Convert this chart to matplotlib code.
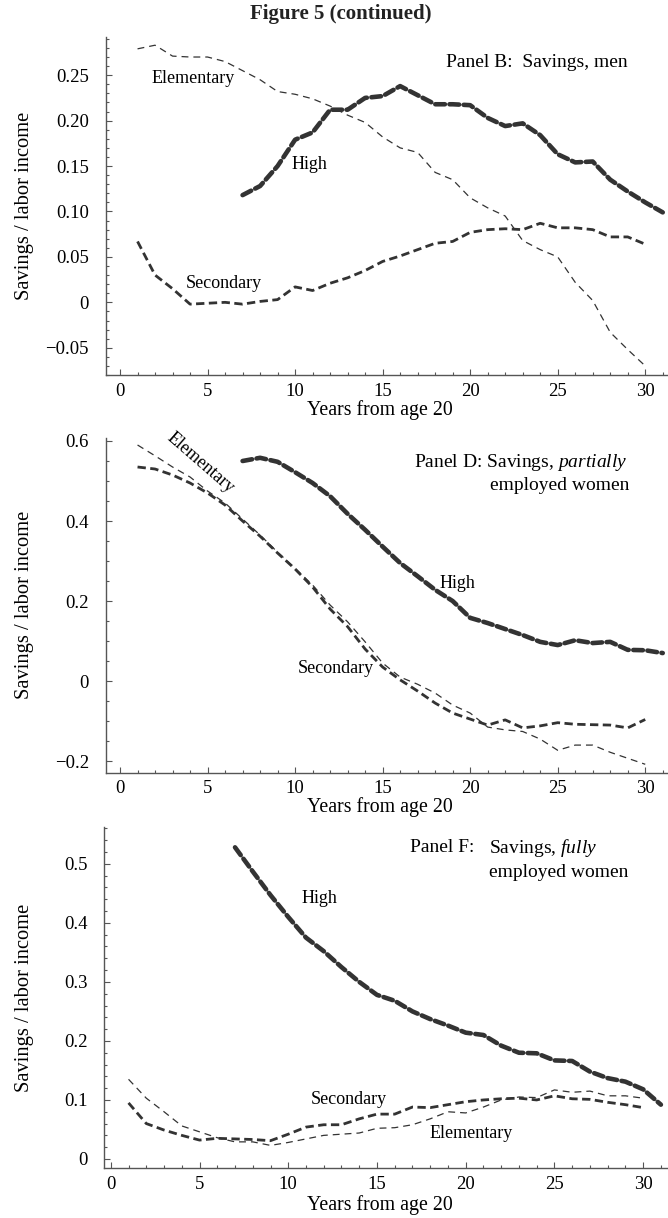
import numpy as np
import matplotlib
matplotlib.use("Agg")
import matplotlib.pyplot as plt
from matplotlib.ticker import MultipleLocator, FixedLocator

plt.rcParams['font.family'] = ['Liberation Serif', 'DejaVu Serif']
plt.rcParams['mathtext.fontset'] = 'custom'
plt.rcParams['mathtext.rm'] = 'Liberation Serif'
plt.rcParams['mathtext.it'] = 'Liberation Serif:italic'

# ---------------- data ----------------
years_elem = list(range(1, 31))
years_sec = list(range(1, 31))
years_high = list(range(7, 32))

# Panel B: savings, men
b_elementary = [0.279, 0.283, 0.271, 0.270, 0.270, 0.265, 0.255, 0.245, 0.232, 0.229,
                0.224, 0.216, 0.206, 0.198, 0.182, 0.170, 0.165, 0.143, 0.135, 0.115,
                0.104, 0.095, 0.068, 0.058, 0.050, 0.022, 0.002, -0.033, -0.052, -0.070]
b_secondary = [0.067, 0.030, 0.015, -0.002, -0.001, 0.000, -0.002, 0.001, 0.003, 0.017,
               0.013, 0.021, 0.027, 0.035, 0.045, 0.051, 0.058, 0.065, 0.067, 0.077,
               0.080, 0.081, 0.080, 0.087, 0.082, 0.082, 0.080, 0.072, 0.072, 0.064]
b_high = [0.118, 0.128, 0.150, 0.179, 0.187, 0.212, 0.212, 0.225, 0.227, 0.238,
          0.228, 0.218, 0.218, 0.217, 0.203, 0.194, 0.197, 0.184, 0.163, 0.154,
          0.155, 0.135, 0.122, 0.110, 0.099]

# Panel D: savings, partially employed women
d_elementary = [0.590, 0.563, 0.535, 0.510, 0.475, 0.445, 0.405, 0.365, 0.322, 0.282,
                0.240, 0.190, 0.148, 0.098, 0.045, 0.010, -0.008, -0.030, -0.060, -0.080,
                -0.115, -0.122, -0.126, -0.145, -0.173, -0.160, -0.160, -0.178, -0.193, -0.208]
d_secondary = [0.535, 0.530, 0.515, 0.495, 0.470, 0.440, 0.400, 0.362, 0.320, 0.280,
               0.235, 0.180, 0.136, 0.080, 0.035, 0.003, -0.025, -0.055, -0.080, -0.095,
               -0.110, -0.097, -0.117, -0.112, -0.104, -0.108, -0.109, -0.110, -0.117, -0.096]
d_high = [0.550, 0.558, 0.548, 0.522, 0.495, 0.462, 0.418, 0.378, 0.336, 0.295,
          0.262, 0.228, 0.200, 0.158, 0.145, 0.130, 0.115, 0.098, 0.090, 0.102,
          0.095, 0.098, 0.078, 0.077, 0.070]

# Panel F: savings, fully employed women
f_elementary = [0.135, 0.103, 0.080, 0.056, 0.046, 0.036, 0.029, 0.029, 0.023, 0.028,
                0.034, 0.040, 0.042, 0.044, 0.052, 0.053, 0.058, 0.068, 0.080, 0.078,
                0.088, 0.100, 0.105, 0.104, 0.117, 0.113, 0.115, 0.107, 0.107, 0.103]
f_secondary = [0.095, 0.060, 0.049, 0.040, 0.032, 0.035, 0.034, 0.033, 0.031, 0.042,
               0.054, 0.058, 0.058, 0.068, 0.076, 0.076, 0.088, 0.087, 0.092, 0.097,
               0.100, 0.102, 0.103, 0.100, 0.107, 0.102, 0.101, 0.096, 0.092, 0.087]
f_high = [0.528, 0.487, 0.447, 0.410, 0.375, 0.352, 0.325, 0.300, 0.278, 0.268,
          0.250, 0.237, 0.226, 0.214, 0.210, 0.192, 0.180, 0.179, 0.167, 0.166,
          0.148, 0.137, 0.131, 0.118, 0.092]

title = "Figure 5 (continued)"
xlabel = "Years from age 20"
ylabel = "Savings / labor income"
x_ticks = [0, 5, 10, 15, 20, 25, 30]
b_yticks = [-0.05, 0, 0.05, 0.10, 0.15, 0.20, 0.25]
b_ylabels = ["\u22120.05", "0", "0.05", "0.10", "0.15", "0.20", "0.25"]
d_yticks = [-0.2, 0, 0.2, 0.4, 0.6]
d_ylabels = ["\u22120.2", "0", "0.2", "0.4", "0.6"]
f_yticks = [0, 0.1, 0.2, 0.3, 0.4, 0.5]
f_ylabels = ["0", "0.1", "0.2", "0.3", "0.4", "0.5"]

# ---------------- style ----------------
LC = '#333333'
AX = '#555555'
STY = {
    'elem': dict(color=LC, lw=0.9, dashes=(5.5, 4.0)),
    'sec': dict(color=LC, lw=2.0, dashes=(3.0, 1.6)),
    'high': dict(color=LC, lw=3.3, dashes=(2.1, 1.0), dash_capstyle='round'),
}
LBL = 13
PNL = 14

fig = plt.figure(figsize=(6.68, 12.18), dpi=100)
fig.text(0.51, 0.9885, title, ha='center', va='center', fontsize=15, fontweight='bold', color='#222222')


def style_axes(ax, xlim, ylim, yticks, ylabels, yminor, xlab_off):
    ax.set_xlim(*xlim)
    ax.set_ylim(*ylim)
    for s in ['top', 'right']:
        ax.spines[s].set_visible(False)
    for s in ['left', 'bottom']:
        ax.spines[s].set_color(AX)
        ax.spines[s].set_linewidth(1.0)
    ax.xaxis.set_major_locator(FixedLocator(x_ticks))
    ax.xaxis.set_minor_locator(MultipleLocator(1))
    ax.yaxis.set_major_locator(FixedLocator(yticks))
    ax.set_yticklabels(ylabels)
    ax.yaxis.set_minor_locator(MultipleLocator(yminor))
    ax.tick_params(which='both', direction='in', color=AX, width=0.8)
    ax.tick_params(which='major', length=4.0, labelsize=13.5)
    ax.tick_params(which='minor', length=2.5)
    ax.tick_params(axis='y', which='major', pad=12)
    ax.tick_params(axis='x', which='major', pad=5.5)
    ax.set_xlabel(xlabel, fontsize=14.3)
    ax.xaxis.label.set_va('center')
    ax.xaxis.set_label_coords(0.488, xlab_off)
    ax.set_ylabel(ylabel, fontsize=14.8)
    ax.yaxis.label.set_va('center')
    ax.yaxis.set_label_coords(-0.145, 0.5)


def draw_lines(ax, e, s, h):
    ax.plot(years_elem, e, **STY['elem'])
    ax.plot(years_sec, s, **STY['sec'])
    ax.plot(years_high, h, **STY['high'])


# Panel B
axB = fig.add_axes([0.1582, 0.6921, 0.8418, 0.2775])
draw_lines(axB, b_elementary, b_secondary, b_high)
style_axes(axB, (-0.82, 31.3), (-0.080, 0.292), b_yticks, b_ylabels, 0.01, -0.104)
axB.text(1.8, 0.246, "Elementary", fontsize=LBL, ha='left', va='center')
axB.text(10.8, 0.152, "High", fontsize=LBL, ha='center', va='center')
axB.text(5.9, 0.021, "Secondary", fontsize=LBL, ha='center', va='center')
axB.text(29.0, 0.264, "Panel B:  Savings, men", fontsize=PNL, ha='right', va='center')

# Panel D
axD = fig.add_axes([0.1582, 0.3656, 0.8418, 0.2748])
draw_lines(axD, d_elementary, d_secondary, d_high)
style_axes(axD, (-0.82, 31.3), (-0.229, 0.6075), d_yticks, d_ylabels, 0.05, -0.104)
axD.text(4.57, 0.545, "Elementary", fontsize=LBL, ha='center', va='center', rotation=-41,
         rotation_mode='anchor')
axD.text(19.3, 0.244, "High", fontsize=LBL, ha='center', va='center')
axD.text(12.3, 0.032, "Secondary", fontsize=LBL, ha='center', va='center')
axD.text(29.0, 0.5475, "Panel D: Savings, $\\mathit{partially}$", fontsize=PNL, ha='right', va='center')
axD.text(29.1, 0.490, "employed women", fontsize=PNL, ha='right', va='center')

# Panel F
axF = fig.add_axes([0.1563, 0.0408, 0.8437, 0.2805])
draw_lines(axF, f_elementary, f_secondary, f_high)
style_axes(axF, (-0.36, 31.4), (-0.0158, 0.563), f_yticks, f_ylabels, 0.02, -0.108)
axF.yaxis.set_label_coords(-0.142, 0.5)
axF.text(11.74, 0.441, "High", fontsize=LBL, ha='center', va='center')
axF.text(13.4, 0.100, "Secondary", fontsize=LBL, ha='center', va='center')
axF.text(20.3, 0.0435, "Elementary", fontsize=LBL, ha='center', va='center')
axF.text(16.85, 0.527, "Panel F:", fontsize=PNL, ha='left', va='center')
axF.text(21.3, 0.527, "Savings, $\\mathit{fully}$", fontsize=PNL, ha='left', va='center')
axF.text(21.3, 0.485, "employed women", fontsize=PNL, ha='left', va='center')

fig.savefig("out.png", dpi=100)
